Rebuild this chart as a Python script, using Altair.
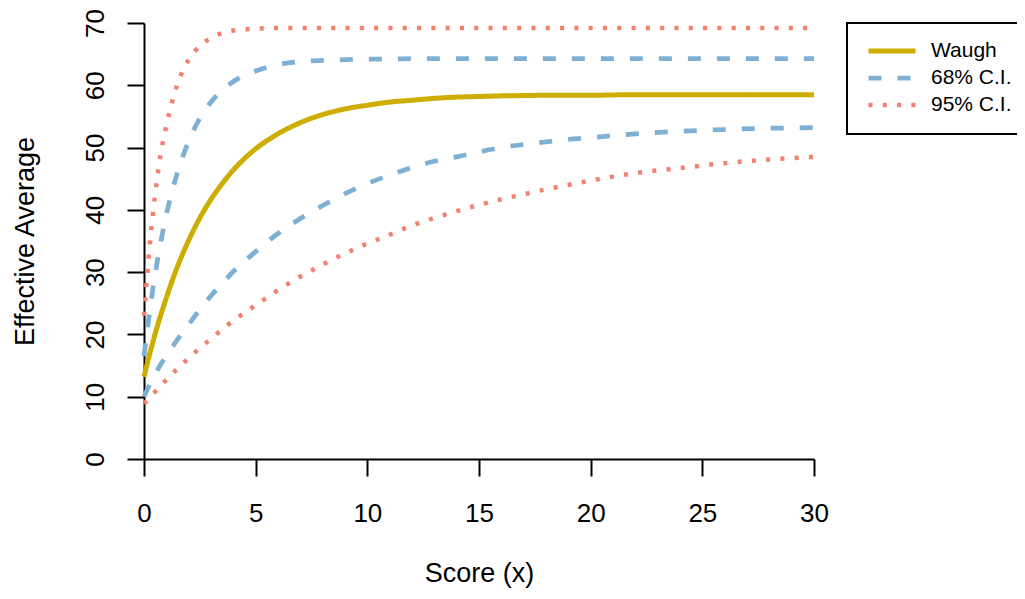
import altair as alt
import pandas as pd

# Score values (x) at which the curves were read
x_vals = [0, 0.25, 0.5, 0.75, 1, 1.5, 2, 2.5, 3, 3.5, 4, 5, 6, 7, 8, 9, 10,
          11, 12, 13, 14, 15, 16, 17, 18, 19, 20, 22, 24, 26, 28, 30]

waugh = [13.2, 16.8, 20.1, 23.1, 25.9, 30.9, 35.1, 38.7, 41.7, 44.2, 46.4, 49.8,
         52.2, 54.0, 55.3, 56.2, 56.8, 57.3, 57.6, 57.9, 58.1, 58.2, 58.3, 58.35,
         58.4, 58.4, 58.4, 58.5, 58.5, 58.5, 58.5, 58.5]

ci68_upper = [16.5, 23.6, 29.7, 34.8, 39.2, 46.0, 51.0, 54.7, 57.3, 59.2, 60.6, 62.3,
              63.3, 63.8, 64.0, 64.1, 64.2, 64.2, 64.3, 64.3, 64.3, 64.3, 64.3, 64.3,
              64.3, 64.3, 64.3, 64.3, 64.3, 64.3, 64.3, 64.3]

ci68_lower = [10.0, 11.9, 13.6, 15.2, 16.5, 19.2, 21.6, 24.0, 26.2, 28.2, 30.1, 33.3,
              36.2, 38.6, 40.7, 42.6, 44.2, 45.6, 46.8, 47.8, 48.5, 49.3, 50.0, 50.5,
              50.9, 51.3, 51.6, 52.2, 52.6, 52.9, 53.1, 53.2]

ci95_upper = [23.0, 34.1, 42.5, 49.0, 53.5, 60.2, 64.1, 66.3, 67.6, 68.4, 68.8, 69.1,
              69.2, 69.2, 69.2, 69.2, 69.2, 69.2, 69.2, 69.2, 69.2, 69.2, 69.2, 69.2,
              69.2, 69.2, 69.2, 69.2, 69.2, 69.2, 69.2, 69.2]

ci95_lower = [8.9, 9.8, 10.8, 11.8, 12.7, 14.5, 16.2, 17.8, 19.3, 20.8, 22.2, 24.7,
              27.1, 29.3, 31.2, 33.0, 34.6, 36.0, 37.5, 38.7, 39.8, 40.8, 41.7, 42.5,
              43.3, 44.0, 44.7, 45.9, 46.7, 47.5, 48.1, 48.5]

series_names = ["Waugh", "68% C.I.", "95% C.I."]
series_colors = ["#CDAD00", "#7FB0D4", "#F4806F"]

rows = []
for name, part, ys in [
    ("95% C.I.", "95 upper", ci95_upper),
    ("95% C.I.", "95 lower", ci95_lower),
    ("68% C.I.", "68 upper", ci68_upper),
    ("68% C.I.", "68 lower", ci68_lower),
    ("Waugh", "waugh", waugh),
]:
    for xv, yv in zip(x_vals, ys):
        rows.append({"x": xv, "y": yv, "series": name, "part": part})
df = pd.DataFrame(rows)

FONT = "Liberation Sans"

leg = alt.Legend(
    title=None,
    orient="none",
    legendX=703,
    legendY=0,
    symbolType="stroke",
    symbolSize=47 * 47,
    clipHeight=18,
    rowPadding=6,
    labelFontSize=21,
    labelFont=FONT,
    labelColor="black",
    labelOffset=13,
    padding=19,
    strokeColor="black",
)

chart = alt.Chart(df).mark_line(interpolate="monotone").encode(
    x=alt.X(
        "x:Q",
        scale=alt.Scale(domain=[0, 30], nice=False, zero=False),
        axis=alt.Axis(
            values=[0, 5, 10, 15, 20, 25, 30],
            title="Score (x)",
            grid=False,
            tickSize=17, tickWidth=2, tickColor="black",
            domainWidth=2, domainColor="black",
            labelFont=FONT, labelFontSize=26, labelColor="black",
            labelBaseline="alphabetic", labelPadding=45,
            labelFlush=False, labelOverlap=False,
            titleFont=FONT, titleFontSize=27, titleFontWeight="normal",
            titleColor="black", titleX=335, titleY=122,
            titleBaseline="alphabetic", titleAlign="center",
        ),
    ),
    y=alt.Y(
        "y:Q",
        scale=alt.Scale(domain=[0, 70], nice=False, zero=False),
        axis=alt.Axis(
            values=[0, 10, 20, 30, 40, 50, 60, 70],
            title="Effective Average",
            grid=False,
            tickSize=17, tickWidth=2, tickColor="black",
            domainWidth=2, domainColor="black",
            labelFont=FONT, labelFontSize=26, labelColor="black",
            labelAngle=270, labelAlign="center", labelBaseline="alphabetic",
            labelPadding=24, labelFlush=False, labelOverlap=False,
            titleFont=FONT, titleFontSize=27, titleFontWeight="normal",
            titleColor="black", titleAngle=270, titleX=-111, titleY=218,
            titleBaseline="alphabetic", titleAlign="center",
        ),
    ),
    color=alt.Color("series:N", scale=alt.Scale(domain=series_names, range=series_colors), legend=leg),
    strokeDash=alt.StrokeDash(
        "series:N",
        scale=alt.Scale(domain=series_names, range=[[1, 0], [13, 16], [4, 10.3]]),
        legend=leg,
    ),
    strokeWidth=alt.StrokeWidth(
        "series:N",
        scale=alt.Scale(domain=series_names, range=[5, 4.5, 4]),
        legend=leg,
    ),
    detail="part:N",
).properties(
    width=670,
    height=436,
    autosize=alt.AutoSizeParams(type="none"),
    padding={"left": 136, "top": 15, "right": 203, "bottom": 129},
).configure_view(stroke=None).configure_legend(strokeWidth=2)

chart.save("out.html", embed_options={"renderer": "svg", "actions": False})
